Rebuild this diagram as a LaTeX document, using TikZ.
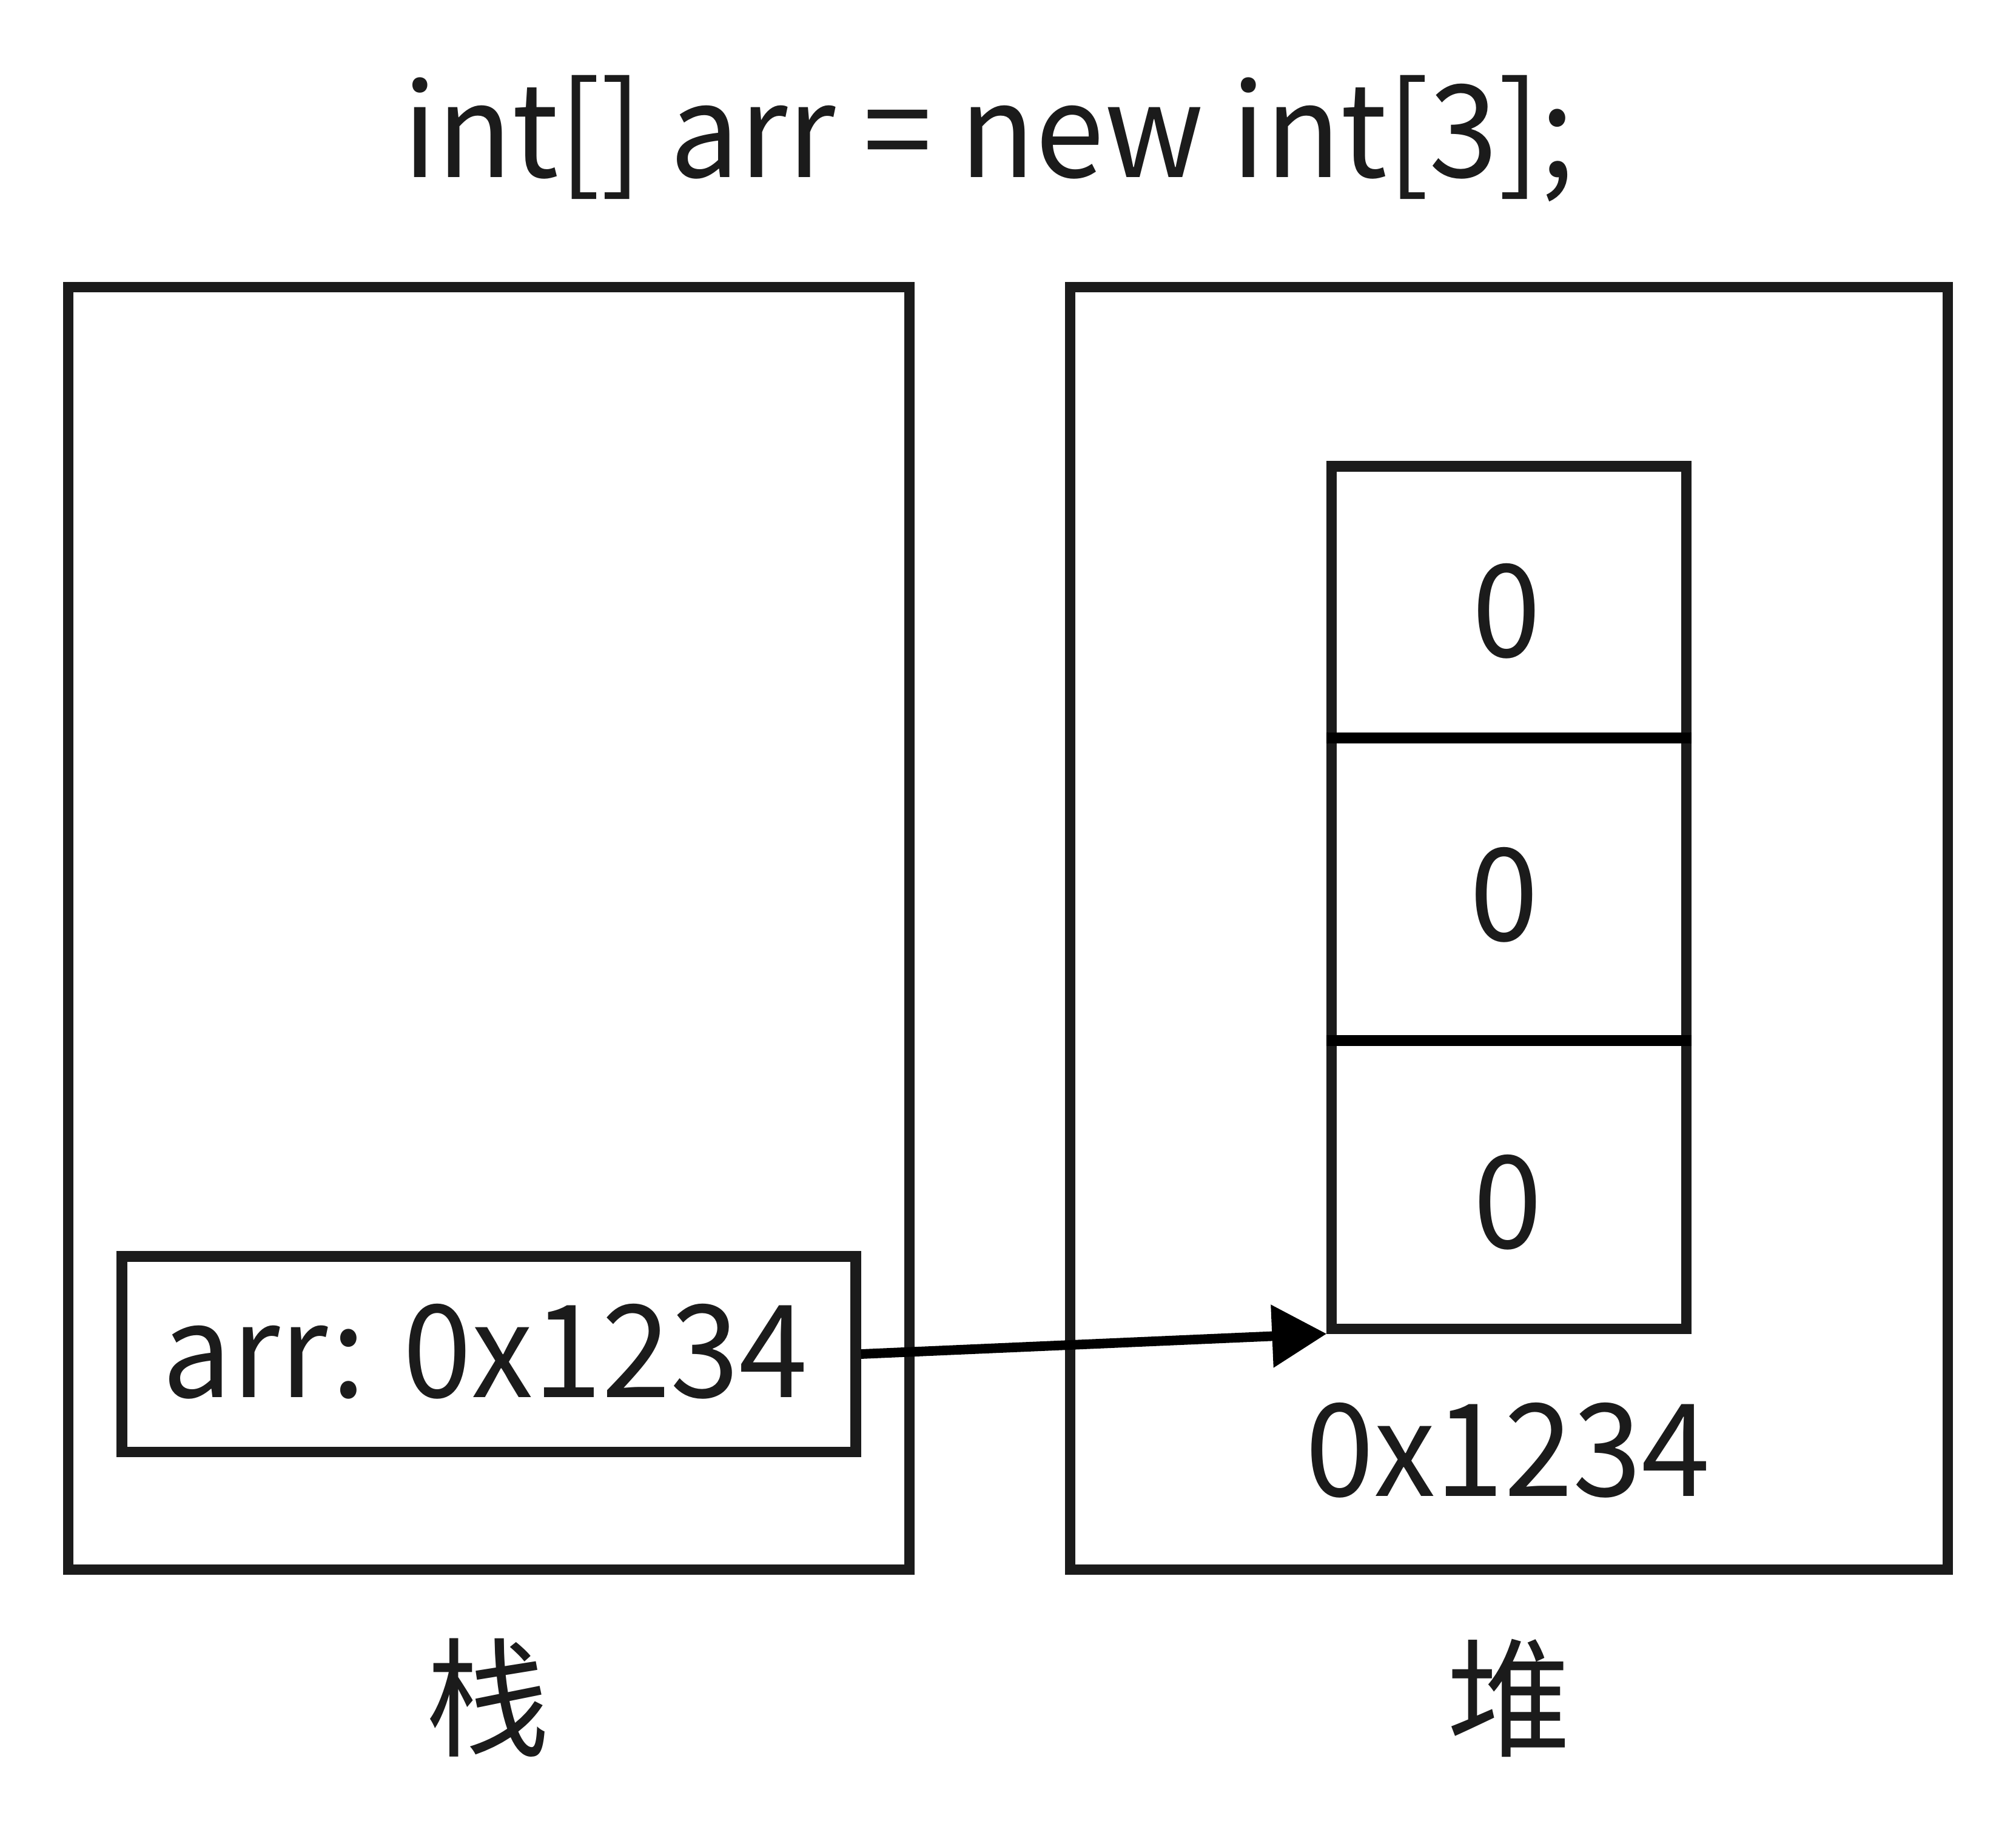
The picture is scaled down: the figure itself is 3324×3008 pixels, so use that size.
\documentclass[tikz,border=0pt]{standalone}
\usepackage{fontspec}
\setmainfont{Noto Sans CJK SC}[FakeStretch=0.96]
\usetikzlibrary{arrows.meta}
\definecolor{inkgray}{RGB}{27,27,27}

\begin{document}
\begin{tikzpicture}[x=0.24pt,y=0.24pt,yscale=-1,xscale=1,
    frame/.style={draw=inkgray, line width=4.1pt, rectangle, inner sep=0pt},
    lbl/.style={text=inkgray, inner sep=0pt, font=\fontsize{51}{61}\selectfont},
    divider/.style={draw=black, line width=4.1pt, line cap=rect},
    ptr/.style={draw=black, line width=3.8pt, -{Triangle[length=21.6pt,width=24pt]}}]
    \useasboundingbox (0,0) rectangle (3324,3008);

    % Text Node
    \node (code) [lbl, anchor=base] at (1630,292) {int[] arr = new int[3];};

    %Shape: Rectangle [stack]
    \node (stack) [frame, minimum width=333.1pt, minimum height=507.8pt] at (806,1531) {};
    %Shape: Rectangle [heap]
    \node (heap) [frame, minimum width=347.3pt, minimum height=507.8pt] at (2488,1531) {};

    %Shape: Rectangle [arr]
    \node (arr) [frame, minimum width=290.4pt, minimum height=77.3pt] at (806,2233) {};
    % Text Node
    \node (arrtxt) [lbl] at (800,2229) {arr: 0x1234};

    %Shape: Rectangle [array]
    \node (array) [frame, minimum width=140.2pt, minimum height=341.3pt] at (2488,1480) {};
    %Straight Lines
    \draw [divider] (2196,1217) -- (2780,1217);
    %Straight Lines
    \draw [divider] (2196,1716) -- (2780,1716);

    % Text Node
    \node (cellA) [lbl, anchor=base] at (2484,1083) {0};
    % Text Node
    \node (cellB) [lbl, anchor=base] at (2480,1551) {0};
    % Text Node
    \node (cellC) [lbl, anchor=base] at (2486,2058) {0};
    % Text Node
    \node (addr) [lbl, anchor=base] at (2486,2467) {0x1234};

    %Straight Lines [pointer]
    \draw [ptr] (arr.east) -- (array.south west);

    % Text Node
    \node (stacklbl) [lbl] at (804,2800) {栈};
    % Text Node
    \node (heaplbl) [lbl] at (2488,2800) {堆};
\end{tikzpicture}
\end{document}
